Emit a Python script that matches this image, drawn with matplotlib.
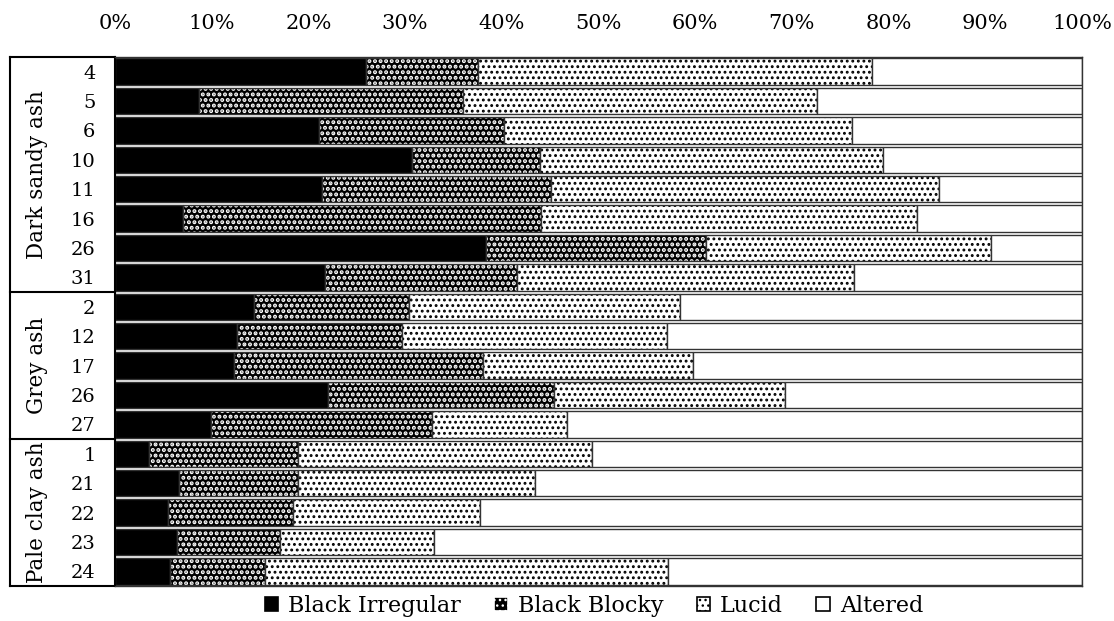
import matplotlib
matplotlib.use("Agg")
import matplotlib.pyplot as plt
import numpy as np
from matplotlib.patches import Patch

groups = ["Dark sandy ash", "Grey ash", "Pale clay ash"]
group_sizes = [8, 5, 5]
samples = ["4", "5", "6", "10", "11", "16", "26", "31",
           "2", "12", "17", "26", "27",
           "1", "21", "22", "23", "24"]
black_irregular = [26.0, 8.7, 21.1, 30.7, 21.4, 7.0, 38.4, 21.7,
                   14.4, 12.6, 12.3, 22.0, 9.9,
                   3.5, 6.6, 5.5, 6.4, 5.7]
black_blocky = [11.5, 27.3, 19.1, 13.3, 23.7, 37.1, 22.7, 19.9,
                16.0, 17.1, 25.8, 23.4, 22.9,
                15.4, 12.3, 12.9, 10.7, 9.8]
lucid = [40.8, 36.6, 36.0, 35.4, 40.1, 38.8, 29.5, 34.8,
         28.0, 27.4, 21.7, 23.9, 13.9,
         30.4, 24.5, 19.3, 15.9, 41.7]
altered = [100 - a - b - c for a, b, c in zip(black_irregular, black_blocky, lucid)]
series_names = ["Black Irregular", "Black Blocky", "Lucid", "Altered"]
xticks = [0, 10, 20, 30, 40, 50, 60, 70, 80, 90, 100]

plt.rcParams['font.family'] = ['DejaVu Serif']

fig = plt.figure(figsize=(11.14, 6.21), dpi=100)
ax = fig.add_axes([115/1114, 1 - 586/621, (1082-115)/1114, (586-57)/621])

y = np.arange(len(samples))
h = 0.9
styles = [
    dict(facecolor="black", edgecolor="black", hatch=None),
    dict(facecolor="black", edgecolor="white", hatch="..."),
    dict(facecolor="white", edgecolor="black", hatch="..."),
    dict(facecolor="white", edgecolor="black", hatch=None),
]
hatch_lws = [1.0, 2.0, 1.3, 1.0]
left = np.zeros(len(samples))
for vals, st, hlw in zip([black_irregular, black_blocky, lucid, altered], styles, hatch_lws):
    vals = np.array(vals)
    with plt.rc_context({'hatch.linewidth': hlw}):
        bars = ax.barh(y, vals, left=left, height=h, linewidth=0, **st)
        for b in bars:
            if hasattr(b, "set_hatch_linewidth"):
                b.set_hatch_linewidth(hlw)
    ax.barh(y, vals, left=left, height=h, fill=False, edgecolor="#333333", linewidth=1.0)
    left += vals

ax.set_xlim(0, 100)
ax.set_ylim(len(samples) - 0.5, -0.5)
ax.xaxis.tick_top()
ax.set_xticks(xticks)
ax.set_xticklabels([f"{t}%" for t in xticks], fontsize=15)
ax.tick_params(axis="x", length=0, pad=17)
ax.set_yticks(y)
ax.set_yticklabels(samples, fontsize=14)
ax.tick_params(axis="y", length=0, pad=14)
for s in ax.spines.values():
    s.set_color("#333333")
    s.set_linewidth(1.0)
ax.spines["left"].set_visible(False)

# label box on the left
trans = ax.get_yaxis_transform()
x0 = -105/967
lw = 1.5
ax.plot([x0, x0], [-0.5, len(samples) - 0.5], transform=trans, color="black", lw=lw, clip_on=False)
ax.plot([0, 0], [-0.5, len(samples) - 0.5], transform=trans, color="black", lw=lw, clip_on=False)
ax.plot([x0, 0], [-0.5, -0.5], transform=trans, color="black", lw=lw, clip_on=False)
start = 0
for g, n in zip(groups, group_sizes):
    end = start + n
    ax.plot([x0, 0], [end - 0.5, end - 0.5], transform=trans, color="black", lw=lw, clip_on=False)
    ax.text(x0 + 0.028, (start + end - 1) / 2, g, transform=trans, rotation=90,
            ha="center", va="center", fontsize=15.5)
    start = end

handles = []
for st, hlw in zip(styles, hatch_lws):
    with plt.rc_context({'hatch.linewidth': hlw}):
        p = Patch(facecolor=st["facecolor"], edgecolor=st["edgecolor"],
                  hatch=("..." if st["hatch"] else None), linewidth=1.2)
    handles.append(p)
handles[1].set_edgecolor("white")
leg = fig.legend(handles, series_names, loc="center", ncol=4, frameon=False,
                 fontsize=16, handlelength=0.6, handleheight=0.6, handletextpad=0.45,
                 columnspacing=1.5, bbox_to_anchor=(594/1114, 1 - 606/621))
for p in leg.get_patches():
    if p.get_facecolor()[0] > 0.5:
        p.set_edgecolor("black")

fig.savefig("out.png", dpi=100)
